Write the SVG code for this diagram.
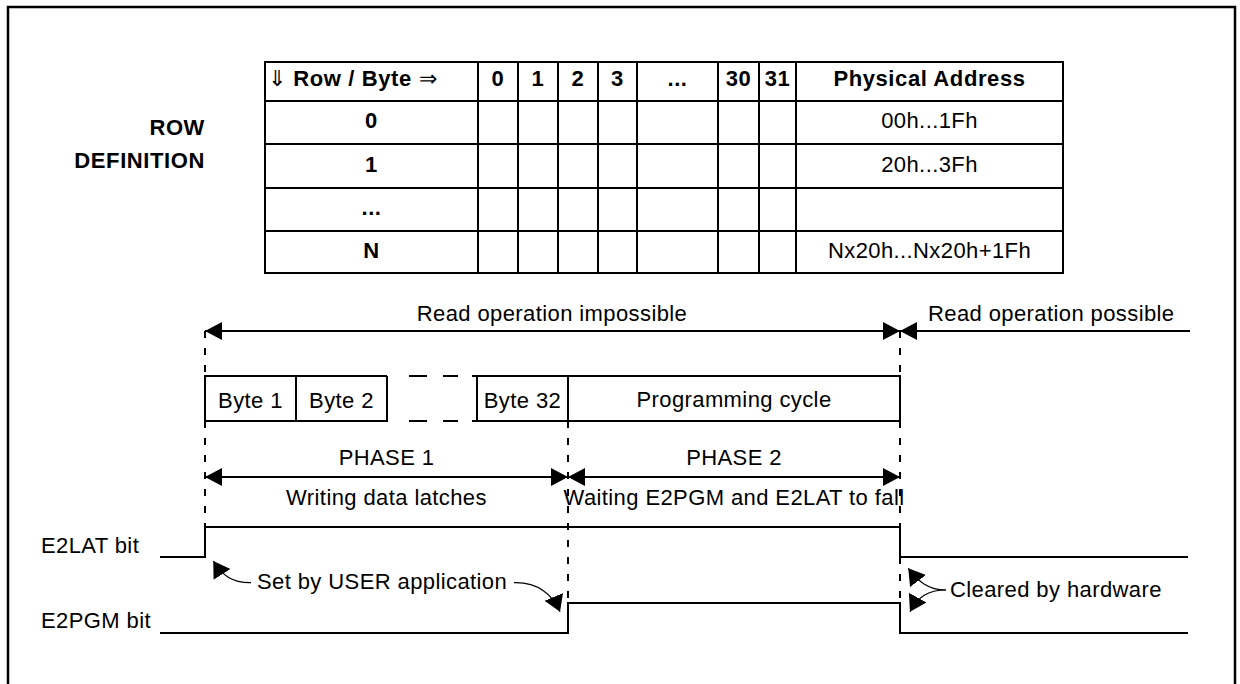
<svg xmlns="http://www.w3.org/2000/svg" width="1240" height="684" viewBox="0 0 1240 684">
  <defs>
    <style>
      text { font-family: "Liberation Sans", Arial, Helvetica, sans-serif; font-size: 22px; fill: #000; letter-spacing: 0.4px; }
      .b { font-weight: bold; letter-spacing: 0.6px; }
      .m { text-anchor: middle; }
      .e { text-anchor: end; }
      .thin { font-weight: normal; }
      .ln { fill: none; stroke: #000; stroke-width: 2; }
      .frame { fill: none; stroke: #000; stroke-width: 2.5; }
      .dash { fill: none; stroke: #000; stroke-width: 2; stroke-dasharray: 7 10; }
      .cv { fill: none; stroke: #000; stroke-width: 1.2; }
      .dim { fill: none; stroke: #000; stroke-width: 2; marker-start: url(#ah-s); marker-end: url(#ah); }
      .one { fill: none; stroke: #000; stroke-width: 2; marker-start: url(#ah-s); }
      .cva { fill: none; stroke: #000; stroke-width: 1.2; marker-end: url(#ah2); }
    </style>
    <marker id="ah" markerUnits="userSpaceOnUse" markerWidth="20" markerHeight="20" refX="17" refY="9" orient="auto">
      <path d="M0,0 L17,9 L0,18 Z" fill="#000"/>
    </marker>
    <marker id="ah-s" markerUnits="userSpaceOnUse" markerWidth="20" markerHeight="20" refX="17" refY="9" orient="auto-start-reverse">
      <path d="M0,0 L17,9 L0,18 Z" fill="#000"/>
    </marker>
    <marker id="ah2" markerUnits="userSpaceOnUse" markerWidth="20" markerHeight="22" refX="16" refY="10" orient="auto">
      <path d="M0,0 L16,10 L0,20 Z" fill="#000"/>
    </marker>
  </defs>

  <rect width="1240" height="684" fill="#fff"/>

  <!-- outer frame, open at the bottom -->
  <path class="frame" d="M8,684 V7 H1235 V684"/>

  <!-- row definition table -->
  <g id="row-definition">
    <text class="b e" x="205" y="135">ROW</text>
    <text class="b e" x="205" y="168">DEFINITION</text>
  </g>
  <g id="table">
    <rect class="ln" x="265" y="62" width="798" height="211"/>
    <path class="ln" d="M265,101 H1063 M265,144 H1063 M265,188 H1063 M265,231 H1063"/>
    <path class="ln" d="M478,62 V273 M518,62 V273 M558,62 V273 M598,62 V273 M637,62 V273 M718,62 V273 M759,62 V273 M796,62 V273"/>
    <text class="b" x="268" y="86"><tspan class="thin">⇓</tspan> Row / Byte <tspan class="thin">⇒</tspan></text>
    <text class="b m" x="498" y="86">0</text>
    <text class="b m" x="538" y="86">1</text>
    <text class="b m" x="578" y="86">2</text>
    <text class="b m" x="617.5" y="86">3</text>
    <text class="b m" x="677.5" y="86">...</text>
    <text class="b m" x="738.5" y="86">30</text>
    <text class="b m" x="777.5" y="86">31</text>
    <text class="b m" x="929.5" y="86">Physical Address</text>
    <text class="b m" x="371.5" y="128">0</text>
    <text class="b m" x="371.5" y="172">1</text>
    <text class="b m" x="371.5" y="215">...</text>
    <text class="b m" x="371.5" y="258">N</text>
    <text class="m" x="929.5" y="128">00h...1Fh</text>
    <text class="m" x="929.5" y="172">20h...3Fh</text>
    <text class="m" x="929.5" y="258">Nx20h...Nx20h+1Fh</text>
  </g>

  <!-- byte latches and programming cycle -->
  <g id="bytes">
    <path class="ln" d="M387,376 H205 V421 H387 V376 M296,376 V421"/>
    <path class="ln" d="M409,376 H427 M443,376 H458 M472,376 H477 M409,421 H427 M443,421 H458 M472,421 H477"/>
    <path class="ln" d="M477,376 V421 H900 V376 H477 M568,376 V421"/>
    <text class="m" x="250.5" y="408">Byte 1</text>
    <text class="m" x="341.5" y="408">Byte 2</text>
    <text class="m" x="522.5" y="408">Byte 32</text>
    <text class="m" x="734" y="407">Programming cycle</text>
  </g>

  <!-- signals -->
  <g id="e2lat">
    <text x="41" y="553">E2LAT bit</text>
    <path class="ln" d="M160,557 H205 V527 H900 V557 H1188"/>
  </g>
  <g id="e2pgm">
    <text x="41" y="628">E2PGM bit</text>
    <path class="ln" d="M160,633 H568 V603 H900 V633 H1188"/>
  </g>

  <!-- labels -->
  <g id="labels">
    <text class="m" x="552" y="321">Read operation impossible</text>
    <text x="928" y="321">Read operation possible</text>
    <text class="m" x="386.5" y="465">PHASE 1</text>
    <text class="m" x="734" y="465">PHASE 2</text>
    <text class="m" x="386.5" y="505">Writing data latches</text>
    <text class="m" x="734" y="505">Waiting E2PGM and E2LAT to fall</text>
    <text x="257" y="589">Set by USER application</text>
    <text x="950" y="597">Cleared by hardware</text>
  </g>

  <!-- connectors -->
  <g id="connectors">
    <path class="dash" d="M205,331 V376 M205,421 V527"/>
    <path class="dash" d="M568,421 V603"/>
    <path class="dash" d="M900,331 V376 M900,421 V603"/>
    <path class="dim" d="M205,331 H900"/>
    <path class="one" d="M900,331 H1190"/>
    <path class="dim" d="M205,477 H568"/>
    <path class="dim" d="M568,477 H900"/>
    <path class="cva" d="M251,582.7 C232,583 223,576 213.3,561"/>
    <path class="cva" d="M514,582.7 C538,582 553,595 560,611.7"/>
    <path class="cva" d="M946,590 C928,590 918,581 908.3,568.3"/>
    <path class="cva" d="M946,590 C928,590 918,597 910,611.7"/>
  </g>
</svg>
